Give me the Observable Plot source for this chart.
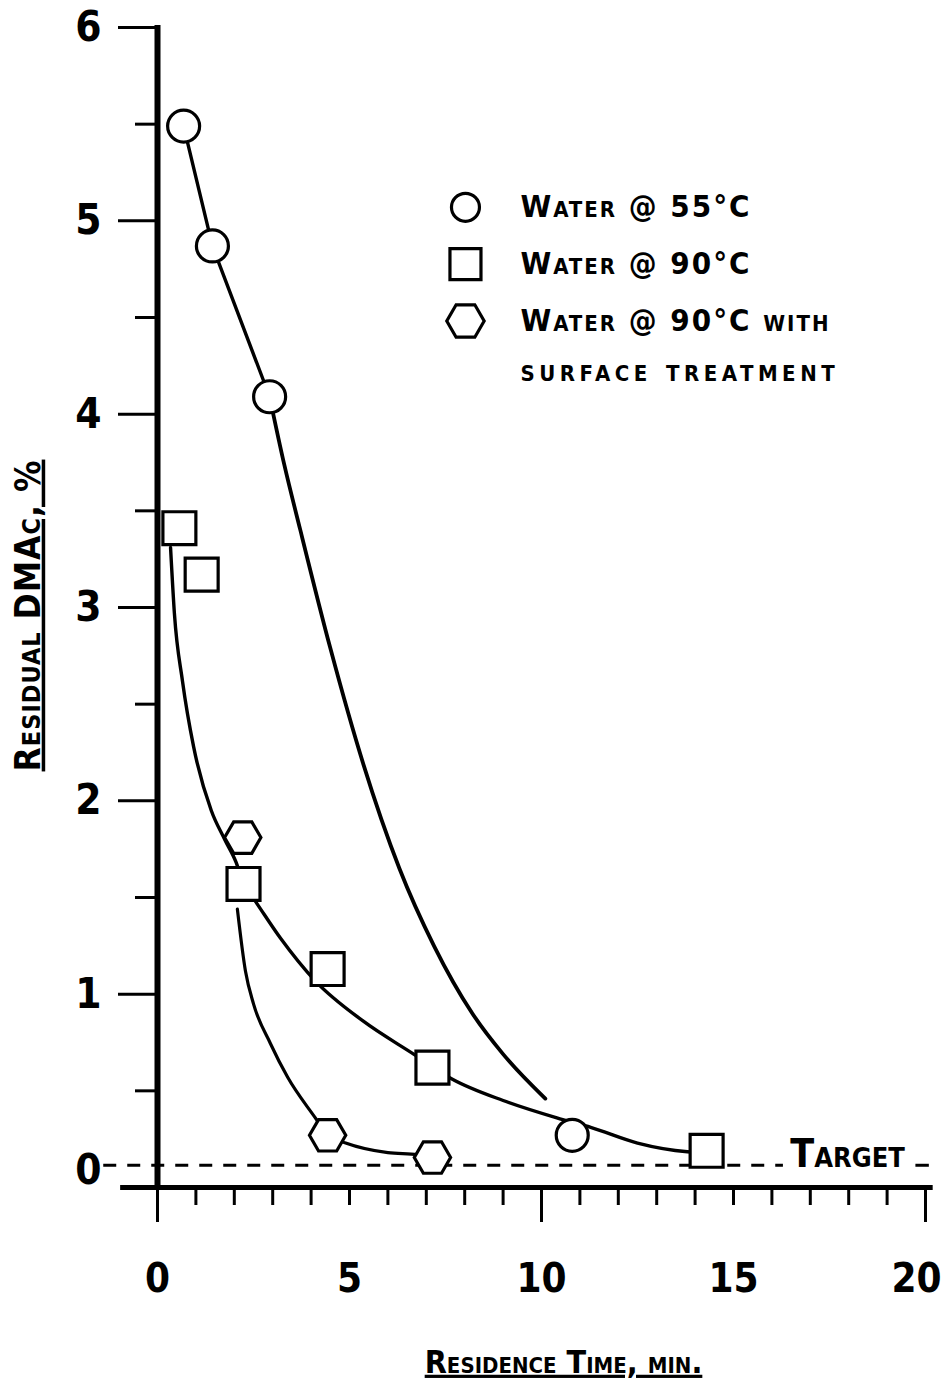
<!DOCTYPE html>
<html>
<head>
<meta charset="utf-8">
<script src="https://cdn.jsdelivr.net/npm/d3@7"></script>
<script src="https://cdn.jsdelivr.net/npm/@observablehq/plot@0.6"></script>
<style>
  html, body { margin: 0; padding: 0; background: #fff; }
  #chart svg { display: block; }
</style>
</head>
<body>
<div id="chart"></div>
<script>
// ---------- DATA ----------
// measured points
const water55X = [0.68, 1.43, 2.92, 10.8];
const water55Y = [5.49, 4.87, 4.09, 0.27];

const water90X = [0.57, 1.15, 2.24, 4.43, 7.16, 14.3];
const water90Y = [3.41, 3.17, 1.57, 1.13, 0.62, 0.19];

const water90SurfX = [2.22, 4.43, 7.16];
const water90SurfY = [1.81, 0.27, 0.155];

// hand-drawn fitted curves
const curve55X = [0.68, 1.43, 2.92, 3.3, 3.72, 4.5, 5.36, 6.3, 7.2, 8.2, 9.0, 10.1];
const curve55Y = [5.49, 4.87, 4.09, 3.74, 3.40, 2.79, 2.19, 1.65, 1.25, 0.90, 0.69, 0.46];

const curve90X = [0.34, 0.44, 0.65, 0.94, 1.4, 1.75, 2.05, 2.24, 2.55, 3.2, 4.1, 5.36, 6.67, 7.68, 9.0, 10.4, 11.3, 12.5, 13.8, 14.3];
const curve90Y = [3.31, 2.97, 2.62, 2.28, 1.95, 1.80, 1.68, 1.57, 1.48, 1.29, 1.07, 0.86, 0.69, 0.56, 0.45, 0.36, 0.31, 0.23, 0.185, 0.18];

const curveSurfX = [2.08, 2.29, 2.5, 2.94, 3.39, 4.11, 4.43, 4.9, 6.0, 6.77, 7.16];
const curveSurfY = [1.44, 1.12, 0.95, 0.745, 0.57, 0.36, 0.27, 0.23, 0.18, 0.17, 0.155];

const targetValue = 0.115;
const targetLabel = "Target";

// ticks
const xLabelTicks = [0, 5, 10, 15];
const xLastLabelTick = [20];
const xMinorTicks = [0, 1, 2, 3, 4, 5, 6, 7, 8, 9, 10, 11, 12, 13, 14, 15, 16, 17, 18, 19, 20];
const xLongTicks = [0, 10, 20];
const yMajorTicks = [1, 2, 3, 4, 5, 6];
const yZeroTick = [0];
const yHalfTicks = [0.5, 1.5, 2.5, 3.5, 4.5, 5.5];

// text
const xTitle = "Residence Time, min.";
const yTitle = "Residual DMAc, %";
const legendSymbols = ["circle", "square", "hexagon"];
const legendLines = ["Water @ 55°C", "Water @ 90°C", "Water @ 90°C with", "surface treatment"];

// ---------- LAYOUT ----------
const FONT = "'DejaVu Sans Condensed','DejaVu Sans',sans-serif";
const pts = (xs, ys) => xs.map((x, i) => ({x, y: ys[i]}));

const flatHexagon = {
  draw(ctx, size) {
    const r = Math.sqrt(size / Math.PI);
    const a = r * 1.1, h = a * Math.sqrt(3) / 2;
    ctx.moveTo(a, 0);
    ctx.lineTo(a / 2, h);
    ctx.lineTo(-a / 2, h);
    ctx.lineTo(-a, 0);
    ctx.lineTo(-a / 2, -h);
    ctx.lineTo(a / 2, -h);
    ctx.closePath();
  }
};

// legend placement (data units)
const LEG_X = 8.02, LEG_TEXT_X = 9.45, LEG_Y0 = 5.07, LEG_STEP = 0.294;
const legendRowsSym = legendSymbols.map((s, i) => ({s, y: LEG_Y0 - i * LEG_STEP}));
const legendRowsText = legendLines.map((t, i) => ({t, y: LEG_Y0 - (i < 3 ? i : 2.88) * LEG_STEP}));

const ink = {stroke: "black", fill: "white", strokeWidth: 3.2};
const fmt = d => String(d);

const c55 = pts(curve55X, curve55Y);
const c55Top = c55.filter(d => d.x <= 2.92);   // straight segments between the first three circles
const c55Tail = c55.filter(d => d.x >= 1.43);  // smooth tail

const chart = Plot.plot({
  width: 944,
  height: 1392,
  marginLeft: 157,
  marginRight: 19,
  marginTop: 27,
  marginBottom: 205,
  x: {domain: [0, 20], axis: null},
  y: {domain: [0, 6], axis: null},
  style: {fontFamily: FONT, background: "white", color: "black", overflow: "visible"},
  marks: [
    // target dashed line
    Plot.ruleY([targetValue], {x1: -1.4, x2: 16.3, stroke: "black", strokeWidth: 3, strokeDasharray: "13,11"}),
    Plot.ruleY([targetValue], {x1: 19.75, x2: 20.1, stroke: "black", strokeWidth: 3}),
    Plot.text([targetLabel], {x: 16.48, y: targetValue, text: d => d, textAnchor: "start", lineAnchor: "bottom",
      fontSize: 39, fontWeight: "bold", fontVariant: "small-caps", dy: 2}),

    // axis lines
    Plot.ruleX([0], {y1: 0, y2: 6.01, stroke: "black", strokeWidth: 6}),
    Plot.ruleY([0], {x1: -0.96, x2: 20.2, stroke: "black", strokeWidth: 5}),

    // y axis ticks and labels
    Plot.axisY({ticks: yHalfTicks, tickSize: 22, tickFormat: () => "", strokeWidth: 3, label: null}),
    Plot.axisY({ticks: yMajorTicks, tickSize: 39, tickPadding: 17, tickFormat: fmt, strokeWidth: 3, label: null,
      fontSize: 42, fontWeight: "bold"}),
    Plot.axisY({ticks: yZeroTick, tickSize: 0, tickPadding: 56, tickFormat: fmt, dy: -17, label: null,
      fontSize: 42, fontWeight: "bold"}),

    // x axis ticks and labels
    Plot.axisX({ticks: xMinorTicks, tickSize: 18, tickFormat: () => "", strokeWidth: 3, label: null}),
    Plot.axisX({ticks: xLongTicks, tickSize: 35, tickFormat: () => "", strokeWidth: 3, label: null}),
    Plot.axisX({ticks: xLabelTicks, tickSize: 0, tickPadding: 76, tickFormat: fmt, label: null,
      fontSize: 40, fontWeight: "bold"}),
    Plot.axisX({ticks: xLastLabelTick, tickSize: 0, tickPadding: 76, tickFormat: fmt, dx: -9, label: null,
      fontSize: 40, fontWeight: "bold"}),

    // fitted curves
    Plot.line(c55Top, {x: "x", y: "y", curve: "linear", stroke: "black", strokeWidth: 3.4}),
    Plot.line(c55Tail.filter(d => d.x >= 2.92), {x: "x", y: "y", curve: "monotone-x", stroke: "black", strokeWidth: 3.8}),
    Plot.line(pts(curve90X, curve90Y), {x: "x", y: "y", curve: "monotone-x", stroke: "black", strokeWidth: 3.4}),
    Plot.line(pts(curveSurfX, curveSurfY), {x: "x", y: "y", curve: "monotone-x", stroke: "black", strokeWidth: 3.2}),

    // measured points
    Plot.dot(pts(water55X, water55Y), {x: "x", y: "y", r: 16, symbol: "circle", ...ink}),
    Plot.dot(pts(water90X, water90Y), {x: "x", y: "y", r: 18.6, symbol: "square", ...ink}),
    Plot.dot(pts(water90SurfX, water90SurfY), {x: "x", y: "y", r: 16.5, symbol: flatHexagon, ...ink}),

    // legend
    Plot.dot(legendRowsSym.filter(d => d.s === "circle"), {x: () => LEG_X, y: "y", r: 14, symbol: "circle", ...ink}),
    Plot.dot(legendRowsSym.filter(d => d.s === "square"), {x: () => LEG_X, y: "y", r: 17.5, symbol: "square", ...ink}),
    Plot.dot(legendRowsSym.filter(d => d.s === "hexagon"), {x: () => LEG_X, y: "y", r: 17, symbol: flatHexagon, ...ink}),
    Plot.text(legendRowsText, {x: () => LEG_TEXT_X, y: "y", text: "t", textAnchor: "start", lineAnchor: "middle",
      fontSize: 31, fontWeight: "bold", fontVariant: "small-caps"}),

    // axis titles
    Plot.text([xTitle], {frameAnchor: "bottom", text: d => d, dx: 22, dy: 175, fontSize: 32,
      fontWeight: "bold", fontVariant: "small-caps", textAnchor: "middle", lineAnchor: "middle"}),
    Plot.text([yTitle], {frameAnchor: "left", text: d => d, rotate: -90, dx: -129, dy: 8, fontSize: 35,
      fontWeight: "bold", fontVariant: "small-caps", textAnchor: "middle", lineAnchor: "middle"})
  ]
});

document.getElementById("chart").appendChild(chart);

// styling touches: letter spacing and underlined axis titles
const svg = d3.select(chart);
svg.selectAll("text").each(function() {
  const t = this.textContent;
  if (t === xTitle || t === yTitle) {
    d3.select(this)
      .style("text-decoration", "underline")
      .style("text-decoration-thickness", "3px")
      .style("letter-spacing", t === yTitle ? "1px" : "0px");
  } else if (t === legendLines[3]) {
    d3.select(this).style("letter-spacing", "4.5px");
  } else if (legendLines.includes(t)) {
    d3.select(this).style("letter-spacing", "2px");
  }
});
</script>
</body>
</html>
